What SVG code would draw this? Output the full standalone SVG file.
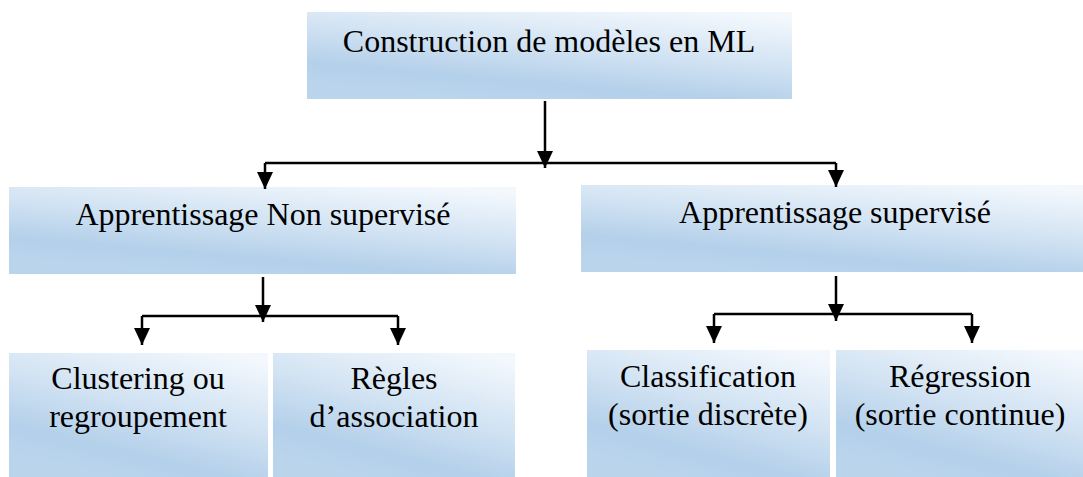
<svg xmlns="http://www.w3.org/2000/svg" width="1083" height="477" viewBox="0 0 1083 477">
<defs>
<linearGradient id="g" x1="0.85" y1="0" x2="0.35" y2="1">
<stop offset="0" stop-color="#f3f8fd"/>
<stop offset="0.45" stop-color="#d2e3f3"/>
<stop offset="0.8" stop-color="#b4d0ea"/>
<stop offset="1" stop-color="#bad4ec"/>
</linearGradient>
<marker id="ah" markerUnits="userSpaceOnUse" markerWidth="18" markerHeight="18" viewBox="0 0 18 18" refX="17" refY="9" orient="auto">
<path d="M0,1 L17,9 L0,17 Z" fill="#000"/>
</marker>
<style>
.box{fill:url(#g);}
.t{font-family:"Liberation Serif","Times New Roman",serif;font-size:32px;fill:#000;text-anchor:middle;}
.c{fill:none;stroke:#000;stroke-width:2.5;}
</style>
</defs>
<rect width="1083" height="477" fill="#fff"/>
<g id="n-root">
<rect class="box" x="307" y="12" width="485" height="87"/>
<text class="t" x="549" y="52">Construction de modèles en ML</text>
</g>
<g id="n-nonsup">
<rect class="box" x="9" y="187" width="507" height="87"/>
<text class="t" x="263" y="225">Apprentissage Non supervisé</text>
</g>
<g id="n-sup">
<rect class="box" x="581" y="185" width="502" height="87"/>
<text class="t" x="835" y="223">Apprentissage supervisé</text>
</g>
<g id="n-clust">
<rect class="box" x="9" y="353" width="259" height="124"/>
<text class="t" x="138" y="389">Clustering ou</text>
<text class="t" x="138" y="427">regroupement</text>
</g>
<g id="n-regles">
<rect class="box" x="273" y="353" width="242" height="124"/>
<text class="t" x="394" y="389">Règles</text>
<text class="t" x="394" y="427">d’association</text>
</g>
<g id="n-classif">
<rect class="box" x="587" y="350" width="243" height="127"/>
<text class="t" x="708" y="387">Classification</text>
<text class="t" x="708" y="425">(sortie discrète)</text>
</g>
<g id="n-regr">
<rect class="box" x="836" y="350" width="247" height="127"/>
<text class="t" x="960" y="387">Régression</text>
<text class="t" x="960" y="425">(sortie continue)</text>
</g>
<g id="connectors">
<path class="c" d="M545,101 V168" marker-end="url(#ah)"/>
<path class="c" d="M265,163 H836"/>
<path class="c" d="M265,163 V189" marker-end="url(#ah)"/>
<path class="c" d="M836,163 V187" marker-end="url(#ah)"/>
<path class="c" d="M263,277 V322" marker-end="url(#ah)"/>
<path class="c" d="M142,316 H398"/>
<path class="c" d="M142,316 V345" marker-end="url(#ah)"/>
<path class="c" d="M398,316 V345" marker-end="url(#ah)"/>
<path class="c" d="M836,276 V321" marker-end="url(#ah)"/>
<path class="c" d="M714,314 H972"/>
<path class="c" d="M714,314 V343" marker-end="url(#ah)"/>
<path class="c" d="M972,314 V343" marker-end="url(#ah)"/>
</g>
</svg>
